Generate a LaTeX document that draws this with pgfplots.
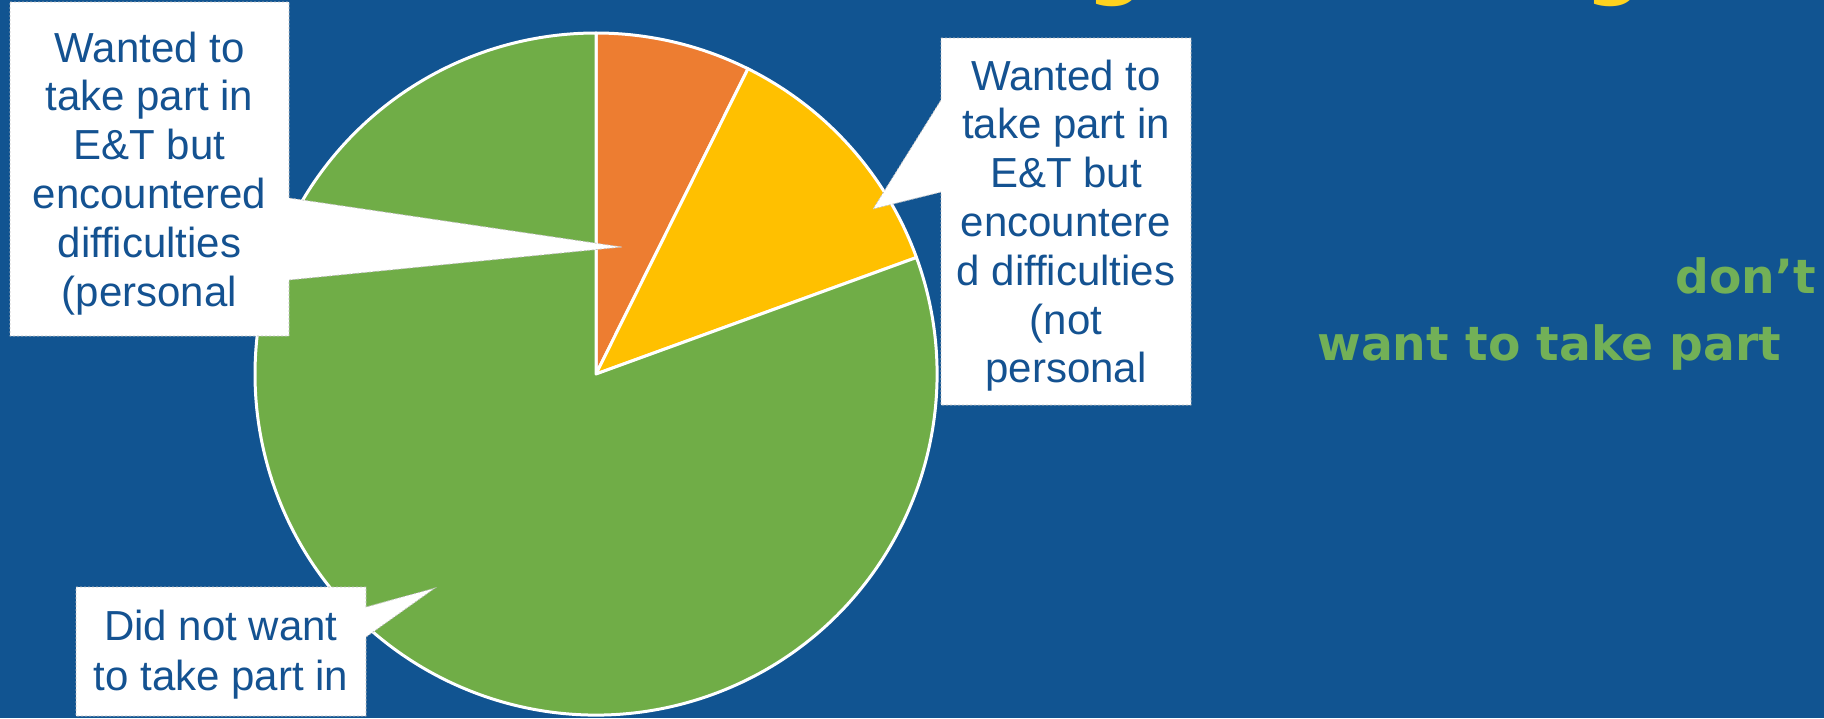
\documentclass[border=0pt]{standalone}
\usepackage{pgfplots}
\pgfplotsset{compat=1.18}
\usepackage{pgfplotstable}
\usepackage{fontspec}
\setmainfont{Liberation Sans}
\newfontfamily\dejavu{DejaVu Sans}
\definecolor{bgblue}{RGB}{17,84,145}
\definecolor{txtblue}{RGB}{20,82,145}
\definecolor{cOrange}{RGB}{237,125,49}
\definecolor{cYellow}{RGB}{255,192,0}
\definecolor{cGreen}{RGB}{112,173,71}
\definecolor{gText}{RGB}{114,176,87}
\definecolor{tYellow}{RGB}{255,210,30}

% pie shares (percent), clockwise from 12 o'clock
\pgfplotstableread{
label value colour
personal 7.35 cOrange
notpersonal 12.1 cYellow
notwant 80.55 cGreen
}\piedata

\begin{document}
\begin{tikzpicture}
\useasboundingbox (0,0) rectangle (912pt,-359pt);
\clip (0,0) rectangle (912pt,-359pt);
\fill[bgblue] (0,0) rectangle (912pt,-359pt);

\begin{axis}[at={(0,0)}, anchor=north west, x=0.5pt, y=0.5pt,
  xmin=0, xmax=1824, ymin=-718, ymax=0, hide axis, clip=false]
\pgfplotsextra{%
  \def\angA{90}%
  \pgfplotsforeachungrouped \i in {0,1,2}{%
    \pgfplotstablegetelem{\i}{value}\of\piedata \let\val\pgfplotsretval
    \pgfplotstablegetelem{\i}{colour}\of\piedata \let\col\pgfplotsretval
    \pgfmathsetmacro\angB{\angA-3.6*\val}%
    \fill[fill=\col, draw=white, line width=1.5pt, line join=round]
      (axis cs:596,-374) -- ++(\angA:170.5pt)
      arc[start angle=\angA, end angle=\angB, radius=170.5pt] -- cycle;
    \let\angA\angB
  }%
}
\end{axis}

\begin{scope}[x=0.5pt, y=-0.5pt]
% clipped yellow title descenders
\node[anchor=base west, inner sep=0pt, text=tYellow, font=\dejavu\bfseries\fontsize{40}{40}\selectfont] at (1087,-11) {g};
\node[anchor=base west, inner sep=0pt, text=tYellow, font=\dejavu\bfseries\fontsize{40}{40}\selectfont] at (1585,-11) {g};

% callouts
\filldraw[fill=white, draw=black!25, line width=0.4pt, dash pattern=on 1pt off 1pt]
  (10,2) -- (289,2) -- (289,198) -- (622,247) -- (289,280) -- (289,336) -- (10,336) -- cycle;
\filldraw[fill=white, draw=black!25, line width=0.4pt, dash pattern=on 1pt off 1pt]
  (941,38) -- (1191,38) -- (1191,405) -- (941,405) -- (941,192) -- (873,209) -- (941,100) -- cycle;
\filldraw[fill=white, draw=black!25, line width=0.4pt, dash pattern=on 1pt off 1pt]
  (76,587) -- (366,587) -- (366,607) -- (435,588) -- (366,637) -- (366,716) -- (76,716) -- cycle;

\tikzset{cl/.style={anchor=base, inner sep=0pt, text=txtblue, font=\fontsize{21}{24}\selectfont}}
\node[cl] at (149.5,62) {Wanted to};
\node[cl] at (149.5,110.8) {take part in};
\node[cl] at (149.5,159.6) {E\&T but};
\node[cl] at (149.5,208.4) {encountered};
\node[cl] at (149.5,257.2) {difficulties};
\node[cl] at (149.5,306) {(personal};

\node[cl] at (1066,90) {Wanted to};
\node[cl] at (1066,138.8) {take part in};
\node[cl] at (1066,187.6) {E\&T but};
\node[cl] at (1066,236.4) {encountere};
\node[cl] at (1066,285.2) {d difficulties};
\node[cl] at (1066,334) {(not};
\node[cl] at (1066,382.8) {personal};

\node[cl] at (221,640) {Did not want};
\node[cl] at (221,690) {to take part in};

% green text
\node[anchor=base west, inner sep=0pt, text=gText, font=\dejavu\bfseries\fontsize{23.6}{28}\selectfont] at (1675,293) {don’t};
\node[anchor=base west, inner sep=0pt, text=gText, font=\dejavu\bfseries\fontsize{23.6}{28}\selectfont] at (1317,360) {want to take part};
\end{scope}
\end{tikzpicture}
\end{document}
